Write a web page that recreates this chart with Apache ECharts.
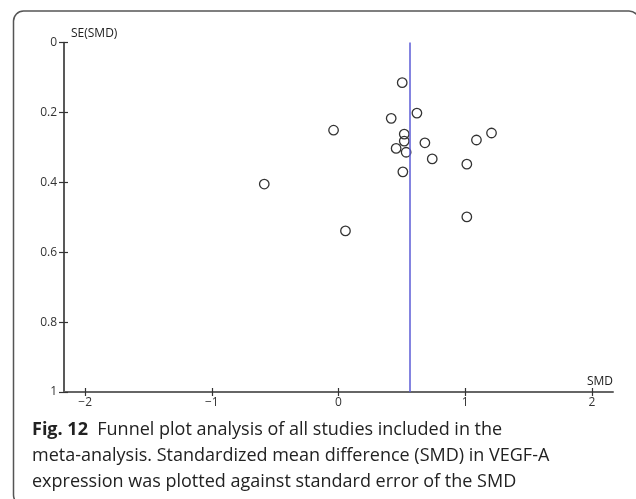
<!DOCTYPE html>
<html>
<head>
<meta charset="utf-8">
<title>Funnel plot</title>
<script src="https://cdn.jsdelivr.net/npm/echarts@6/dist/echarts.min.js"></script>
<style>
  html, body { margin: 0; padding: 0; background: #fff; }
  #main { width: 636px; height: 499px; }
</style>
</head>
<body>
<div id="main"></div>
<script>
// studies: standardized mean difference and its standard error
var smd = [0.503, 0.619, 0.416, -0.039, 0.519, 0.519, 0.455, 0.534, 0.682, 0.740, 1.089, 1.208, 1.013, 0.508, -0.586, 0.055, 1.013];
var se = [0.115, 0.202, 0.217, 0.251, 0.262, 0.282, 0.303, 0.314, 0.287, 0.333, 0.279, 0.259, 0.348, 0.370, 0.405, 0.539, 0.499];
var pooledSMD = 0.563;
var xTicks = [-2, -1, 0, 1, 2];
var yTicks = [0, 0.2, 0.4, 0.6, 0.8, 1];
var captionLines = [
  'Funnel plot analysis of all studies included in the',
  'meta-analysis. Standardized mean difference (SMD) in VEGF-A',
  'expression was plotted against standard error of the SMD'
];

var points = [];
for (var i = 0; i < smd.length; i++) {
  points.push([smd[i], se[i]]);
}

var font = 'Open Sans';
var labelStyle = { color: '#333', fontSize: 12, fontFamily: font };

var chart = echarts.init(document.getElementById('main'));
var option = {
  animation: false,
  grid: { left: 64, top: 42.5, right: 23, bottom: 107 },
  xAxis: [{
    type: 'value',
    min: -2.167,
    max: 2.167,
    name: 'SMD',
    nameLocation: 'end',
    nameGap: 0,
    nameTextStyle: { color: '#222', fontSize: 12, fontFamily: font, align: 'right', verticalAlign: 'bottom', padding: [0, 0, 4, 0] },
    splitLine: { show: false },
    axisLine: { onZero: false, lineStyle: { color: '#666', width: 2 } },
    axisTick: { show: true, length: 4, customValues: xTicks, lineStyle: { color: '#333', width: 1.2 } },
    axisLabel: {
      customValues: xTicks,
      margin: 5,
      ...labelStyle,
      formatter: function (v) { return String(v).replace('-', '\u2212'); }
    }
  }, {
    // inner half of the crossing ticks
    type: 'value',
    position: 'bottom',
    min: -2.167,
    max: 2.167,
    splitLine: { show: false },
    axisLine: { show: false, onZero: false },
    axisTick: { show: true, inside: true, length: 4, customValues: xTicks, lineStyle: { color: '#333', width: 1.2 } },
    axisLabel: { show: false }
  }],
  yAxis: [{
    type: 'value',
    inverse: true,
    min: 0,
    max: 1,
    interval: 0.2,
    name: 'SE(SMD)',
    nameLocation: 'start',
    nameGap: 3,
    nameTextStyle: { color: '#222', fontSize: 12, fontFamily: font, align: 'left', padding: [0, 0, 0, 7] },
    splitLine: { show: false },
    axisLine: { onZero: false, lineStyle: { color: '#222', width: 1.5 } },
    axisTick: { show: true, length: 5, customValues: yTicks, lineStyle: { color: '#333', width: 1.2 } },
    axisLabel: { margin: 7, customValues: yTicks, ...labelStyle }
  }, {
    type: 'value',
    inverse: true,
    position: 'left',
    min: 0,
    max: 1,
    interval: 0.2,
    splitLine: { show: false },
    axisLine: { show: false, onZero: false },
    axisTick: { show: true, inside: true, length: 4, customValues: yTicks, lineStyle: { color: '#333', width: 1.2 } },
    axisLabel: { show: false }
  }],
  series: [{
    type: 'scatter',
    data: points,
    symbol: 'circle',
    symbolSize: 9.5,
    itemStyle: { color: 'rgba(0,0,0,0)', borderColor: '#333', borderWidth: 1.3, opacity: 1 },
    markLine: {
      silent: true,
      symbol: ['none', 'none'],
      label: { show: false },
      lineStyle: { color: '#5b5bd6', width: 1.5, type: 'solid' },
      data: [{ xAxis: pooledSMD }]
    }
  }],
  graphic: [{
    type: 'rect',
    shape: { x: 13.5, y: 11, width: 625.5, height: 494, r: 10 },
    style: { fill: 'none', stroke: '#555', lineWidth: 1.5 },
    silent: true
  }, {
    type: 'text',
    left: 32,
    top: 417,
    style: {
      text: '{b|Fig. 12}  ' + captionLines[0] + '\n' + captionLines[1] + '\n' + captionLines[2],
      fontFamily: font,
      fontSize: 18,
      lineHeight: 26,
      fill: '#222',
      rich: {
        b: { fontFamily: font, fontSize: 18, fontWeight: 'bold', lineHeight: 26, fill: '#222' }
      }
    }
  }]
};
chart.setOption(option);
</script>
</body>
</html>
